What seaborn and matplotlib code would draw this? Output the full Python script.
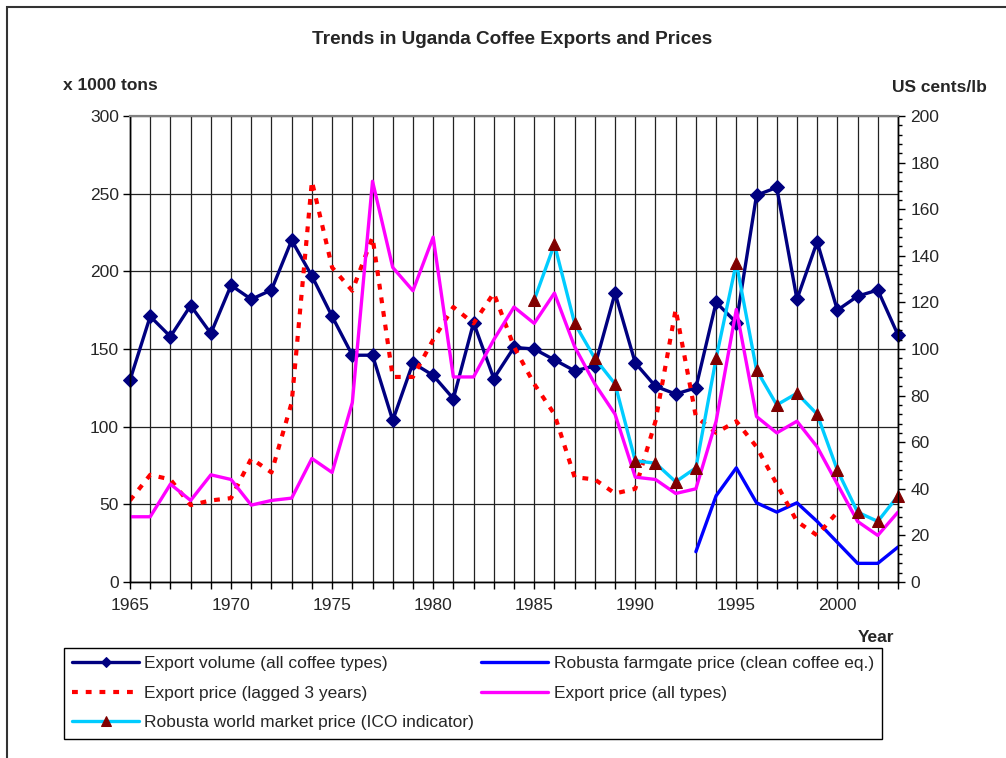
import matplotlib
matplotlib.use('Agg')
import matplotlib.pyplot as plt
import seaborn as sns
from matplotlib.patches import Rectangle
from matplotlib.ticker import MultipleLocator

# data
years = list(range(1965, 2004))
export_volume = [130, 171, 158, 178, 160, 191, 182, 188, 220, 197,
                 171, 146, 146, 104, 141, 133, 118, 167, 131, 151,
                 150, 143, 136, 139, 186, 141, 126, 121, 125, 180,
                 167, 249, 254, 182, 219, 175, 184, 188, 159]
export_price_all = [28, 28, 42, 35, 46, 44, 33, 35, 36, 53,
                    47, 77, 172, 135, 125, 148, 88, 88, 104, 118,
                    111, 124, 101, 85, 72, 45, 44, 38, 40, 69,
                    117, 71, 64, 69, 58, 42, 26, 20, 30]
lagged_years = list(range(1965, 2001))
export_price_lagged = [35, 46, 44, 33, 35, 36, 53, 47, 77, 172,
                       135, 125, 148, 88, 88, 104, 118, 111, 124, 101,
                       85, 72, 45, 44, 38, 40, 69, 117, 71, 64,
                       69, 58, 42, 26, 20, 30]
world_years = list(range(1985, 2004))
robusta_world = [121, 145, 111, 96, 85, 52, 51, 43, 49, 96,
                 137, 91, 76, 81, 72, 48, 30, 26, 37]
farmgate_years = list(range(1993, 2004))
robusta_farmgate = [13, 37, 49, 34, 30, 34, 26, 17, 8, 8, 15]

sns.set_style('white')
plt.rcParams['font.family'] = ['Liberation Sans', 'DejaVu Sans']

W, H = 1006, 758
fs = 12.5
fig = plt.figure(figsize=(W / 100, H / 100), dpi=100)
ax = fig.add_axes([130 / W, 1 - 582 / H, 768 / W, 466 / H])
ax2 = ax.twinx()

# left axis: export volume
sns.lineplot(x=years, y=export_volume, ax=ax, color='#000080', linewidth=2.4,
             marker='D', markersize=7, markeredgecolor='#000080', clip_on=False,
             label='Export volume (all coffee types)', legend=False)

# right axis: prices
sns.lineplot(x=farmgate_years, y=robusta_farmgate, ax=ax2, color='#0000FF', linewidth=2.4,
             label='Robusta farmgate price (clean coffee eq.)', legend=False)
sns.lineplot(x=lagged_years, y=export_price_lagged, ax=ax2, color='#FF0000', linewidth=3,
             linestyle=(0, (1.4, 1.9)), label='Export price (lagged 3 years)', legend=False)
sns.lineplot(x=years, y=export_price_all, ax=ax2, color='#FF00FF', linewidth=2.4,
             label='Export price (all types)', legend=False)
sns.lineplot(x=world_years, y=robusta_world, ax=ax2, color='#00CCFF', linewidth=2.4,
             marker='^', markersize=9, markerfacecolor='#800000', markeredgecolor='#800000',
             clip_on=False, label='Robusta world market price (ICO indicator)', legend=False)

ax.set_xlim(1965, 2003)
ax.set_ylim(0, 300)
ax2.set_ylim(0, 200)
ax.set_xlabel('')
ax.set_ylabel('')
ax2.set_ylabel('')

ax.xaxis.set_major_locator(MultipleLocator(5))
ax.xaxis.set_minor_locator(MultipleLocator(1))
ax.yaxis.set_major_locator(MultipleLocator(50))
ax2.yaxis.set_major_locator(MultipleLocator(20))
ax2.yaxis.set_minor_locator(MultipleLocator(4))

ax.grid(True, which='both', axis='x', color='#222222', linewidth=0.9)
ax.grid(True, which='major', axis='y', color='#222222', linewidth=0.9)
ax2.grid(False)
ax.set_axisbelow(True)

ax.tick_params(axis='x', which='both', direction='out', length=5, width=1,
               color='black', bottom=True, labelsize=fs, pad=6.5)
ax.tick_params(axis='y', which='major', direction='out', length=5, width=1,
               color='black', left=True, labelsize=fs, pad=3)
ax2.tick_params(axis='y', which='major', direction='out', length=5, width=1,
                color='black', right=True, labelsize=fs, pad=4)
ax2.tick_params(axis='y', which='minor', direction='out', length=3, width=1,
                color='black', right=True)

for a in (ax, ax2):
    for side in ('left', 'bottom', 'right'):
        a.spines[side].set_color('black')
        a.spines[side].set_linewidth(1)
    a.spines['top'].set_color('#808080')
    a.spines['top'].set_linewidth(1.5)
ax2.patch.set_visible(False)

fig.text(512 / W, 1 - 40 / H, 'Trends in Uganda Coffee Exports and Prices',
         ha='center', va='center', fontsize=13.7, fontweight='bold')
fig.text(63 / W, 1 - 85 / H, 'x 1000 tons', ha='left', va='center',
         fontsize=fs, fontweight='bold')
fig.text(987 / W, 1 - 87 / H, 'US cents/lb', ha='right', va='center',
         fontsize=fs, fontweight='bold')
fig.text(876 / W, 1 - 638 / H, 'Year', ha='center', va='center',
         fontsize=fs, fontweight='bold')

h1, l1 = ax.get_legend_handles_labels()
h2, l2 = ax2.get_legend_handles_labels()
hd = dict(zip(l1 + l2, h1 + h2))
order = ['Export volume (all coffee types)', 'Export price (lagged 3 years)',
         'Robusta world market price (ICO indicator)',
         'Robusta farmgate price (clean coffee eq.)', 'Export price (all types)']
leg = fig.legend([hd[k] for k in order], order, ncol=2, mode='expand',
                 bbox_to_anchor=(64 / W, 1 - 738 / H, 818 / W, 90 / H),
                 loc='upper left', borderaxespad=0, fontsize=fs, numpoints=1,
                 handlelength=3.85, handletextpad=0.3, labelspacing=0.82,
                 borderpad=0.48, fancybox=False, framealpha=1, edgecolor='black',
                 markerscale=0.8)
leg.get_frame().set_linewidth(1)

# outer chart border
fig.add_artist(Rectangle((7 / W, -0.05), 1.2, 1.05 - 7 / H, transform=fig.transFigure,
                         fill=False, edgecolor='#333333', linewidth=1.5))

fig.savefig('out.png', dpi=100)
